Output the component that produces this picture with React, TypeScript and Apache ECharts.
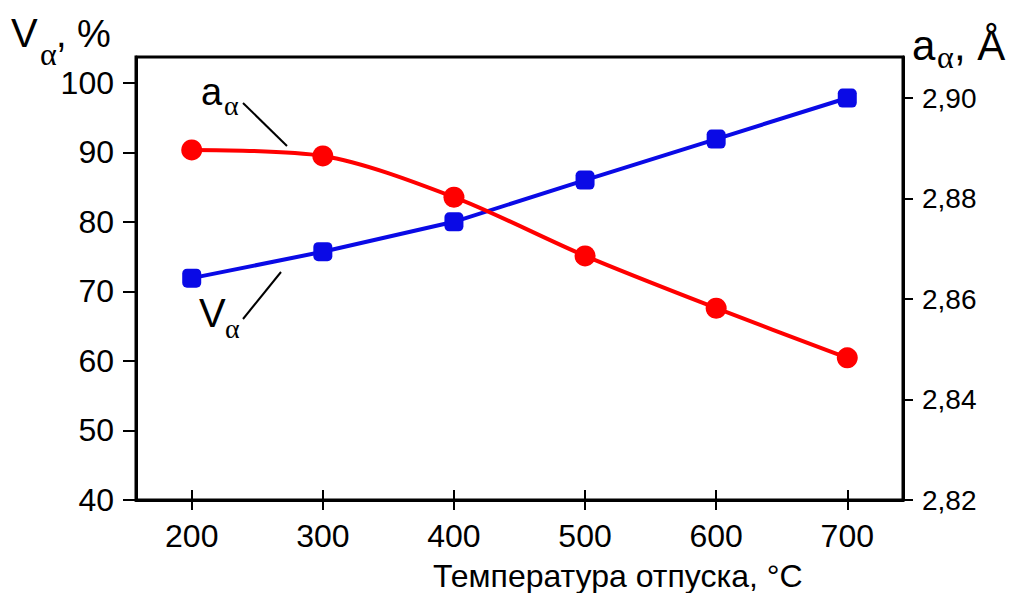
import React, { useEffect, useRef } from "react";
import * as echarts from "echarts";

const temperatures = [200, 300, 400, 500, 600, 700];
const vAlpha = [71.9, 75.7, 80.0, 86.0, 91.9, 97.8];
const aAlpha = [2.8897, 2.8885, 2.8803, 2.8686, 2.8582, 2.8483];
const xTicks = [200, 300, 400, 500, 600, 700];
const leftTicks = [40, 50, 60, 70, 80, 90, 100];
const rightTicks = [2.82, 2.84, 2.86, 2.88, 2.9];

const SANS = "Liberation Sans, Arial, sans-serif";
const SERIF = "Liberation Serif, Times New Roman, serif";

function txt(text: string, x: number, baseline: number, size: number, family = SANS, k = 0.3465) {
  return {
    type: "text",
    x,
    y: baseline - k * size,
    silent: true,
    style: {
      text,
      fontSize: size,
      fontFamily: family,
      fill: "#000",
      align: "left",
      verticalAlign: "middle",
    },
  };
}

export default function App() {
  const ref = useRef<HTMLDivElement>(null);
  useEffect(() => {
    if (!ref.current) return;
    const chart = echarts.init(ref.current, undefined, { renderer: "svg" });
    const axisLine = { show: true, lineStyle: { color: "#000", width: 3 } };
    chart.setOption({
      animation: false,
      backgroundColor: "#fff",
      grid: {
        left: 136,
        right: 108,
        top: 57,
        bottom: 93,
        show: true,
        borderColor: "#000",
        borderWidth: 3,
        backgroundColor: "transparent",
      },
      xAxis: [
        {
          type: "value",
          min: 157.5,
          max: 742.5,
          position: "bottom",
          axisLine,
          splitLine: { show: false },
          axisTick: { show: true, length: 10, inside: false, customValues: xTicks, lineStyle: { color: "#000", width: 2 } },
          axisLabel: { customValues: xTicks, fontSize: 32, fontFamily: SANS, color: "#000", margin: 20 },
        },
        {
          type: "value",
          min: 157.5,
          max: 742.5,
          position: "bottom",
          axisLine: { show: false },
          splitLine: { show: false },
          axisTick: { show: true, length: 10, inside: true, customValues: xTicks, lineStyle: { color: "#000", width: 2 } },
          axisLabel: { show: false },
        },
      ],
      yAxis: [
        {
          type: "value",
          position: "left",
          min: 40,
          max: 103.7,
          axisLine,
          splitLine: { show: false },
          axisTick: { show: true, length: 13, customValues: leftTicks, lineStyle: { color: "#000", width: 2 } },
          axisLabel: { customValues: leftTicks, fontSize: 32, fontFamily: SANS, color: "#000", margin: 22 },
        },
        {
          type: "value",
          position: "right",
          min: 2.82,
          max: 2.9082,
          axisLine,
          splitLine: { show: false },
          axisTick: { show: true, length: 10, customValues: rightTicks, lineStyle: { color: "#000", width: 2 } },
          axisLabel: {
            customValues: rightTicks,
            fontSize: 28,
            fontFamily: SANS,
            color: "#000",
            margin: 19,
            formatter: (v: number) => v.toFixed(2).replace(".", ","),
          },
        },
      ],
      series: [
        {
          name: "Vα",
          type: "line",
          xAxisIndex: 0,
          yAxisIndex: 0,
          data: temperatures.map((t, i) => [t, vAlpha[i]]),
          symbol: "roundRect",
          symbolSize: 19,
          itemStyle: { color: "#0a0ae6" },
          lineStyle: { color: "#0a0ae6", width: 4 },
          z: 3,
        },
        {
          name: "aα",
          type: "line",
          xAxisIndex: 0,
          yAxisIndex: 1,
          data: temperatures.map((t, i) => [t, aAlpha[i]]),
          smooth: 0.3,
          symbol: "circle",
          symbolSize: 21,
          itemStyle: { color: "#ff0000" },
          lineStyle: { color: "#ff0000", width: 4 },
          z: 4,
        },
      ],
      graphic: [
        // left axis title
        txt("V", 11, 47, 40),
        txt("α", 40, 65, 32, SERIF, 0.3375),
        txt(", %", 56, 47, 38),
        // right axis title
        txt("a", 912, 60, 42),
        txt("α", 937, 68, 32, SERIF, 0.3375),
        txt(", Å", 954, 60, 42),
        // x axis title
        txt("Температура отпуска, °C", 433, 587, 32),
        // annotations
        txt("a", 201, 105, 38),
        txt("α", 224, 115, 28, SERIF, 0.3375),
        { type: "line", silent: true, shape: { x1: 243, y1: 103, x2: 287, y2: 146 }, style: { stroke: "#000", lineWidth: 2 } },
        txt("V", 199, 327, 40),
        txt("α", 225, 338, 28, SERIF, 0.3375),
        { type: "line", silent: true, shape: { x1: 243, y1: 319, x2: 281, y2: 272 }, style: { stroke: "#000", lineWidth: 2 } },
      ],
    });
    return () => chart.dispose();
  }, []);
  return <div ref={ref} style={{ position: "absolute", left: 0, top: 0, width: 1011, height: 593 }} />;
}
